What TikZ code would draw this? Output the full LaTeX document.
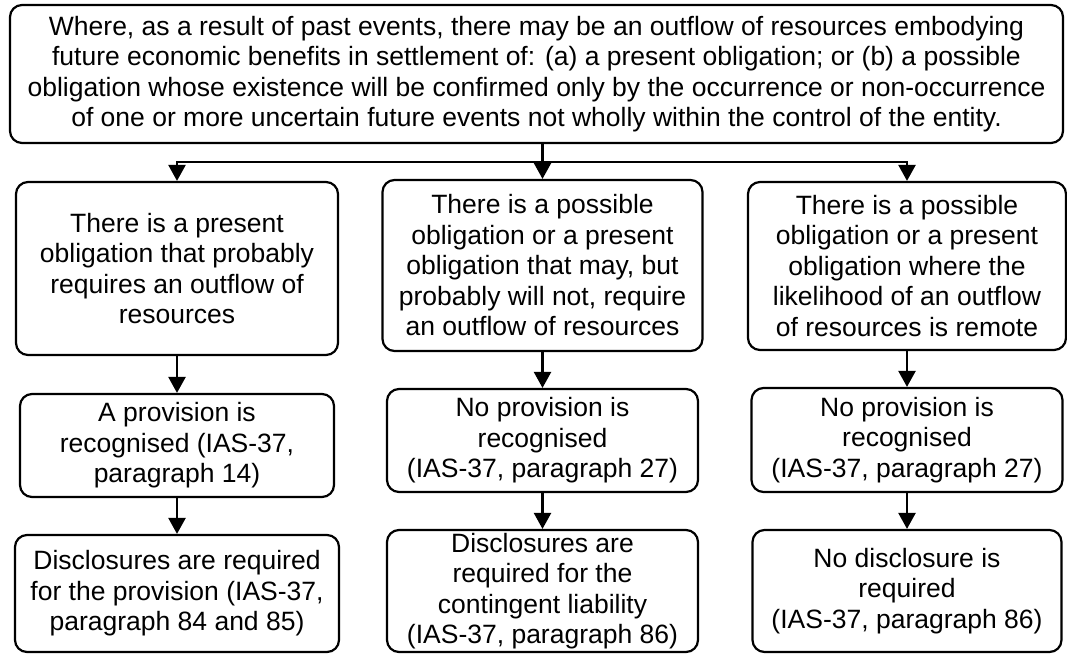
\documentclass[tikz,border=0pt]{standalone}
\usepackage{fontspec}
\setmainfont{Liberation Sans}
\usetikzlibrary{arrows.meta}

\tikzset{
	box/.style={draw, line width=2.2pt, rounded corners=12pt, inner sep=0pt, align=center, font=\fontsize{26.5}{30.5}\selectfont},
	arr/.style={line width=2.4pt, -{Triangle[width=17pt,length=16pt]}}
}

\begin{document}
\begin{tikzpicture}[x=1pt,y=-1pt]
	\useasboundingbox (0,0) rectangle (1067,654);
	\node[box,minimum width=1053pt,minimum height=138pt] (top) at (536.5,74) {Where, as a result of past events, there may be an outflow of resources embodying\\ future economic benefits in settlement of: (a) a present obligation; or (b) a possible\\ obligation whose existence will be confirmed only by the occurrence or non-occurrence\\ of one or more uncertain future events not wholly within the control of the entity.};
	
	\node[box,minimum width=322pt,minimum height=173pt] (present) at (177,268.5) {There is a present\\ obligation that probably\\ requires an outflow of\\ resources};
	\node[box,minimum width=320pt,minimum height=171pt] (possible) at (542.5,265.5) {There is a possible\\ obligation or a present\\ obligation that may, but\\ probably will not, require\\ an outflow of resources};
	\node[box,minimum width=318pt,minimum height=168pt] (remote) at (907,266) {There is a possible\\ obligation or a present\\ obligation where the\\ likelihood of an outflow\\ of resources is remote};
	
	\node[box,minimum width=314pt,minimum height=103pt] (provyes) at (177,445.5) {A provision is\\ recognised (IAS-37,\\ paragraph 14)};
	\node[box,minimum width=311pt,minimum height=103pt] (provno) at (542.5,440.5) {No provision is\\ recognised\\ (IAS-37, paragraph 27)};
	\node[box,minimum width=311pt,minimum height=104pt] (provnotwo) at (907,440) {No provision is\\ recognised\\ (IAS-37, paragraph 27)};
	
	\node[box,minimum width=324pt,minimum height=117pt] (discprov) at (177,593.5) {Disclosures are required\\ for the provision (IAS-37,\\ paragraph 84 and 85)};
	\node[box,minimum width=311pt,minimum height=122pt] (disccont) at (542.5,591) {Disclosures are\\ required for the\\ contingent liability\\ (IAS-37, paragraph 86)};
	\node[box,minimum width=309pt,minimum height=122pt] (discnone) at (907,591) {No disclosure is\\ required\\ (IAS-37, paragraph 86)};
	
	\coordinate (split) at (possible.north |- 0,162);
	\draw[arr] (top.south -| possible.north) -- (possible.north);
	\draw[arr] (split) -| (present.north);
	\draw[arr] (split) -| (remote.north);
	
	\draw[arr] (present.south) -- (provyes.north);
	\draw[arr] (provyes.south) -- (discprov.north);
	\draw[arr] (possible.south) -- (provno.north);
	\draw[arr] (provno.south) -- (disccont.north);
	\draw[arr] (remote.south) -- (provnotwo.north);
	\draw[arr] (provnotwo.south) -- (discnone.north);
\end{tikzpicture}
\end{document}
